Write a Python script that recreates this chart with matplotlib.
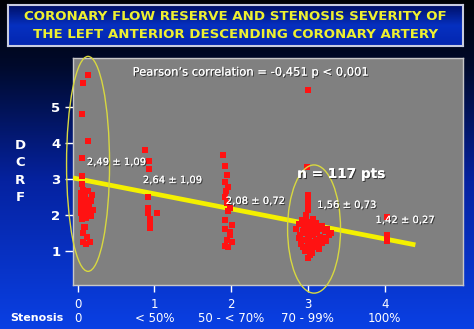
import numpy as np
import matplotlib
matplotlib.use("Agg")
import matplotlib.pyplot as plt
from matplotlib.patches import Ellipse
from matplotlib.colors import LinearSegmentedColormap
import matplotlib.patheffects as pe

# ---------------- data ----------------
categories = [0, 1, 2, 3, 4]
tick_numbers = ["0", "1", "2", "3", "4"]
stenosis_labels = ["0", "< 50%", "50 - < 70%", "70 - 99%", "100%"]
y_ticks = [1, 2, 3, 4, 5]

# stenosis 0
jit0 = [0.14, 0.07, 0.06, 0.14, 0.06, 0.06, 0.06, 0.07, 0.14, 0.19, 0.04, 0.10,
        0.05, 0.12, 0.17, 0.07, 0.11, 0.04, 0.15, 0.09, 0.05, 0.12, 0.20, 0.07,
        0.10, 0.04, 0.14, 0.17, 0.08, 0.11, 0.06, 0.09, 0.07, 0.12, 0.07, 0.16, 0.11]
cfr0 = [5.89, 5.67, 4.80, 4.06, 3.58, 3.08, 2.86, 2.69, 2.66, 2.55, 2.60, 2.52,
        2.45, 2.42, 2.40, 2.36, 2.33, 2.30, 2.27, 2.24, 2.20, 2.17, 2.13, 2.12,
        2.08, 2.05, 2.02, 1.98, 1.96, 1.92, 1.88, 1.67, 1.50, 1.38, 1.25, 1.25, 1.19]
# stenosis 1
jit1 = [-0.12, -0.07, -0.07, -0.08, -0.08, -0.08, 0.03, -0.06, -0.06, -0.06]
cfr1 = [3.80, 3.50, 3.28, 2.50, 2.20, 2.05, 2.05, 1.88, 1.74, 1.64]
# stenosis 2
jit2 = [-0.10, -0.08, -0.05, -0.08, -0.04, -0.07, -0.08, -0.05, -0.01, -0.04,
        -0.08, 0.01, -0.08, -0.01, -0.01, -0.05, 0.01, -0.08, -0.04]
cfr2 = [3.67, 3.36, 3.11, 2.92, 2.78, 2.66, 2.50, 2.33, 2.19, 2.10,
        1.86, 1.72, 1.61, 1.52, 1.44, 1.31, 1.25, 1.14, 1.11]
# stenosis 3
jit3 = [0.00, -0.01, 0.00, 0.00, 0.00, 0.00, -0.03,
        -0.15, -0.12, -0.10, -0.08, -0.07, -0.05, -0.05, -0.03, -0.02, 0.00, 0.00,
        0.00, 0.00, 0.02, 0.02, 0.03, 0.04, 0.05, 0.06, 0.07, 0.08, 0.08, 0.10,
        0.10, 0.12, 0.13, 0.14, 0.16, 0.18, 0.20, 0.22, 0.25, 0.27, 0.30, -0.09,
        -0.04, 0.05, 0.15, 0.00, 0.03, -0.12, 0.18, 0.24, -0.06]
cfr3 = [5.47, 3.33, 2.55, 2.42, 2.30, 2.15, 2.00,
        1.60, 1.75, 1.45, 1.85, 1.55, 1.30, 1.70, 1.90, 1.50, 1.80, 1.40,
        1.20, 1.62, 1.05, 1.35, 1.72, 1.55, 1.25, 1.88, 1.45, 1.10, 1.65, 1.30,
        1.78, 1.50, 1.15, 1.62, 1.40, 1.70, 1.35, 1.55, 1.60, 1.45, 1.50, 1.20,
        1.00, 0.95, 1.05, 0.80, 0.90, 1.35, 1.22, 1.28, 1.10]
# stenosis 4
jit4 = [0.03, 0.03, 0.03]
cfr4 = [1.94, 1.44, 1.28]

groups = [(jit0, cfr0), (jit1, cfr1), (jit2, cfr2), (jit3, cfr3), (jit4, cfr4)]

group_labels = ["2,49 ± 1,09", "2,64 ± 1,09", "2,08 ± 0,72", "1,56 ± 0,73", "1,42 ± 0,27"]
reg_intercept = 3.005
reg_slope = -0.417
reg_x_end = 4.40
title_lines = ["CORONARY FLOW RESERVE AND STENOSIS SEVERITY OF",
               "THE LEFT ANTERIOR DESCENDING CORONARY ARTERY"]
corr_text = "Pearson’s correlation = -0,451 p < 0,001"
n_text = "n = 117 pts"

# ---------------- figure ----------------
W, H = 474, 329
fig = plt.figure(figsize=(W / 100, H / 100), dpi=100)

# background gradient
bg = fig.add_axes([0, 0, 1, 1])
bg_cmap = LinearSegmentedColormap.from_list(
    "bg", [(0.0, "#000206"), (0.2, "#000a2c"), (0.55, "#0522a0"), (1.0, "#0a40e4")])
bg.imshow(np.linspace(0, 1, 256).reshape(-1, 1), aspect="auto", cmap=bg_cmap,
          extent=[0, 1, 0, 1], origin="upper")
bg.set_xlim(0, 1)
bg.set_ylim(0, 1)
bg.axis("off")

# title box
tb = fig.add_axes([8 / W, 1 - 46 / H, 455 / W, 41 / H])
tb_cmap = LinearSegmentedColormap.from_list(
    "tb", [(0.0, "#001068"), (0.5, "#0630c0"), (1.0, "#0426b0")])
tb.imshow(np.linspace(0, 1, 64).reshape(-1, 1), aspect="auto", cmap=tb_cmap,
          extent=[0, 1, 0, 1], origin="upper")
tb.set_xlim(0, 1)
tb.set_ylim(0, 1)
tb.set_xticks([])
tb.set_yticks([])
for s in tb.spines.values():
    s.set_color("#c8cce0")
    s.set_linewidth(1.5)
tb.text(0.5, 0.73, title_lines[0], ha="center", va="center", color="#eef030",
        fontsize=9.6, fontweight="bold", transform=tb.transAxes)
tb.text(0.5, 0.29, title_lines[1], ha="center", va="center", color="#eef030",
        fontsize=9.6, fontweight="bold", transform=tb.transAxes)

# main axes
ax = fig.add_axes([73 / W, 1 - 285 / H, (463 - 73) / W, (285 - 58) / H])
ax.set_facecolor("#808080")
ax.set_xlim(-0.06, 5.02)
ax.set_ylim(0.056, 6.36)

for cat, (jit, cfr) in zip(categories, groups):
    ax.scatter(cat + np.array(jit), cfr, marker="s", s=19, color="#ff1212",
               edgecolors="none", zorder=4)

xl = np.array([ax.get_xlim()[0], reg_x_end])
ax.plot(xl, reg_intercept + reg_slope * xl, color="#f4f000", lw=3.4,
        solid_capstyle="butt", zorder=3)

ax.add_patch(Ellipse((0.136, 3.42), 0.56, 5.97, fill=False, ec="#d8d840",
                     lw=1.0, zorder=5, clip_on=False))
ax.add_patch(Ellipse((3.08, 1.61), 0.69, 3.56, fill=False, ec="#d8d840",
                     lw=1.0, zorder=5, clip_on=False))

shadow = [pe.withSimplePatchShadow(offset=(0.8, -0.8), shadow_rgbFace="black", alpha=0.6),
          pe.Normal()]
ax.text(2.25, 5.97, corr_text, ha="center", va="center", color="white",
        fontsize=8.3, path_effects=shadow, zorder=6)
label_pos = [(0.12, 3.47), (0.85, 2.97), (1.93, 2.39), (3.12, 2.28), (3.88, 1.86)]
for (lx, ly), t in zip(label_pos, group_labels):
    ax.text(lx, ly, t, ha="left", va="center", color="white", fontsize=7.2,
            path_effects=shadow, zorder=6)
ax.text(2.86, 3.14, n_text, ha="left", va="center", color="white", fontsize=9.8,
        fontweight="bold", path_effects=shadow, zorder=6)

# axes styling
for name, s in ax.spines.items():
    s.set_color("#c8c8c8")
    s.set_linewidth(1.0)
ax.set_yticks(y_ticks)
ax.set_yticklabels([str(v) for v in y_ticks], color="white", fontsize=9.5,
                   fontweight="bold")
ax.tick_params(axis="y", colors="white", length=6, width=1, pad=3)
ax.set_xticks(categories)
ax.set_xticklabels([f"{n}\n{l}" for n, l in zip(tick_numbers, stenosis_labels)],
                   color="white", fontsize=8.5, linespacing=1.1)
ax.tick_params(axis="x", colors="white", length=5, width=1, pad=4)

fig.text(20 / W, 1 - 171.5 / H, "D\nC\nR\nF", ha="center", va="center",
         color="white", fontsize=9.5, fontweight="bold", linespacing=1.45)
fig.text(37 / W, 1 - 318 / H, "Stenosis", ha="center", va="center",
         color="white", fontsize=8, fontweight="bold")

fig.savefig("out.png", dpi=100)
